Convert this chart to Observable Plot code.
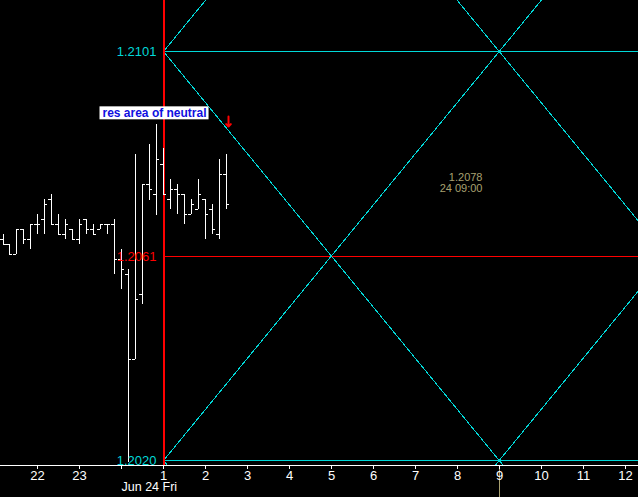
<!DOCTYPE html>
<html><head><meta charset="utf-8">
<script src="https://cdn.jsdelivr.net/npm/d3@7"></script>
<script src="https://cdn.jsdelivr.net/npm/@observablehq/plot@0.6"></script>
<style>html,body{margin:0;padding:0;background:#000;overflow:hidden}</style>
</head><body><div id="chart"></div>
<script>
// 10-minute bars, minutes relative to midnight Jun 24
const barMinutes = [-170,-160,-150,-140,-130,-120,-110,-100,-90,-80,-70,-60,-50,-40,-30,-20,-10,0,10,20,30,40,50,60,70,80,90,100,110,120,130,140,150];
const barOpen  = [1.20638,1.20628,1.20608,1.20657,1.20638,1.20667,1.20677,1.20717,1.20667,1.20648,1.20657,1.20638,1.20677,1.20657,1.20657,1.20667,1.20667,1.20598,1.20568,1.20400,1.20529,1.20747,1.20727,1.20786,1.20717,1.20737,1.20727,1.20687,1.20697,1.20717,1.20697,1.20648,1.20766];
const barHigh  = [1.20648,1.20628,1.20657,1.20657,1.20667,1.20687,1.20717,1.20727,1.20687,1.20677,1.20657,1.20677,1.20677,1.20667,1.20667,1.20667,1.20677,1.20618,1.20578,1.20806,1.20747,1.20826,1.20865,1.20818,1.20757,1.20747,1.20727,1.20717,1.20757,1.20717,1.20707,1.20796,1.20806];
const barLow   = [1.20628,1.20608,1.20608,1.20628,1.20618,1.20648,1.20648,1.20667,1.20648,1.20638,1.20638,1.20628,1.20648,1.20648,1.20657,1.20648,1.20568,1.20539,1.20196,1.20400,1.20509,1.20715,1.20685,1.20725,1.20697,1.20687,1.20667,1.20687,1.20697,1.20638,1.20648,1.20638,1.20697];
const barClose = [1.20628,1.20608,1.20657,1.20638,1.20667,1.20667,1.20707,1.20667,1.20648,1.20667,1.20638,1.20667,1.20657,1.20648,1.20667,1.20667,1.20598,1.20578,1.20400,1.20519,1.20747,1.20737,1.20796,1.20727,1.20737,1.20727,1.20687,1.20707,1.20727,1.20687,1.20657,1.20766,1.20707];

const levels = [1.2101, 1.20605, 1.2020];
const levelLabels = ["1.2101", "1.2061", "1.2020"];

const hourTicks  = [-2,-1,0,1,2,3,4,5,6,7,8,9,10,11,12];
const hourLabels = ["22","23","","1","2","3","4","5","6","7","8","9","10","11","12"];
const dateLabel = "Jun 24 Fri";
const dateHour = 0;

const pivotHour = 1;
const mirrorHour = 9;

const calloutText = "res area of neutral";
const calloutHour = -0.46;
const calloutPrice = 1.20887;

const arrowHour = 2.54;
const arrowFrom = 1.20881;
const arrowTo = 1.20862;

const cursorHour = 9;
const cursorPrice = 1.2078;
const cursorText = ["1.2078", "24 09:00"];

// ---- build tables ----
const bars = barMinutes.map((m, i) => ({t: m / 60, open: barOpen[i], high: barHigh[i], low: barLow[i], close: barClose[i]}));
const xMin = -2.893, xMax = 12.316;
const yMin = 1.201901, yMax = 1.21111;
const pxPerHour = 638 / (xMax - xMin);
const tickSpan = 3 / pxPerHour;

const slope = (levels[0] - levels[2]) / (mirrorHour - pivotHour);
const anchors = [[pivotHour, levels[0]], [pivotHour, levels[2]], [mirrorHour, levels[0]], [mirrorHour, levels[2]]];
const seen = new Set();
const diag = [];
for (const [h, p] of anchors) {
  for (const s of [1, -1]) {
    const key = s + ":" + (p - s * slope * h).toFixed(6);
    if (seen.has(key)) continue;
    seen.add(key);
    for (const hh of [pivotHour, xMax + 2]) diag.push({id: key, h: hh, p: p + s * slope * (hh - h)});
  }
}

const CYAN = "#00d8d8", RED = "#ff0000", OLIVE = "#a8a070";

const plot = Plot.plot({
  width: 638, height: 497,
  marginTop: 0, marginRight: 0, marginBottom: 32, marginLeft: 0,
  style: {background: "#000", color: "white", fontFamily: "Liberation Sans, Arial, sans-serif"},
  x: {domain: [xMin, xMax], round: true, axis: null},
  y: {domain: [yMin, yMax], round: true, axis: null},
  marks: [
    Plot.ruleY(levels, {y: d => d, x1: pivotHour, x2: xMax, stroke: (d, i) => i === 1 ? RED : CYAN, strokeWidth: 1, shapeRendering: "crispEdges"}),
    Plot.line(diag, {x: "h", y: "p", z: "id", stroke: CYAN, strokeWidth: 1, clip: true, shapeRendering: "crispEdges"}),
    Plot.ruleX([pivotHour], {stroke: RED, strokeWidth: 2, shapeRendering: "crispEdges"}),
    Plot.ruleX(bars, {x: "t", y1: "low", y2: "high", stroke: "white", strokeWidth: 1, shapeRendering: "crispEdges"}),
    Plot.ruleY(bars, {y: "open", x1: d => d.t - tickSpan, x2: "t", stroke: "white", strokeWidth: 1, shapeRendering: "crispEdges"}),
    Plot.ruleY(bars, {y: "close", x1: "t", x2: d => d.t + tickSpan, stroke: "white", strokeWidth: 1, shapeRendering: "crispEdges"}),
    Plot.text(levels, {x: pivotHour, y: d => d, text: (d, i) => levelLabels[i], textAnchor: "end", dx: -7, fill: (d, i) => i === 1 ? RED : CYAN, fontSize: 13}),
    Plot.text([calloutText], {x: calloutHour, y: calloutPrice, text: d => d, textAnchor: "start", fill: "#1010e0", fontWeight: "bold", fontSize: 12}),
    Plot.arrow([{t: arrowHour, from: arrowFrom, to: arrowTo}], {x1: "t", x2: "t", y1: "from", y2: "to", stroke: RED, strokeWidth: 2, headLength: 5, headAngle: 90}),
    Plot.text([cursorText[0]], {x: cursorHour, y: cursorPrice, text: d => d, textAnchor: "end", dx: -17, dy: 10, fill: OLIVE, fontSize: 11}),
    Plot.text([cursorText[1]], {x: cursorHour, y: cursorPrice, text: d => d, textAnchor: "end", dx: -17, dy: 21, fill: OLIVE, fontSize: 11}),
    Plot.ruleX([cursorHour], {stroke: OLIVE, strokeWidth: 1, insetTop: 433, dy: 32, shapeRendering: "crispEdges"}),
    Plot.ruleY([yMin], {stroke: "white", strokeWidth: 1, shapeRendering: "crispEdges"}),
    Plot.axisX({ticks: hourTicks, tickFormat: t => hourLabels[hourTicks.indexOf(t)], tickSize: 4, tickPadding: 1, fontSize: 13, color: "white"}),
    Plot.text([dateLabel], {x: dateHour, frameAnchor: "bottom", text: d => d, textAnchor: "start", dy: 25, fill: "white", fontSize: 12.5})
  ]
});
document.getElementById("chart").appendChild(plot);

// white box behind the callout text
for (const txt of plot.querySelectorAll("text")) {
  if (txt.textContent !== calloutText) continue;
  const bb = txt.getBBox();
  const rect = document.createElementNS("http://www.w3.org/2000/svg", "rect");
  rect.setAttribute("x", bb.x - 3);
  rect.setAttribute("y", bb.y);
  rect.setAttribute("width", bb.width + 5);
  rect.setAttribute("height", bb.height - 1);
  rect.setAttribute("fill", "white");
  const tr = txt.getAttribute("transform");
  if (tr) rect.setAttribute("transform", tr);
  txt.parentNode.insertBefore(rect, txt);
}
</script>
</body></html>
